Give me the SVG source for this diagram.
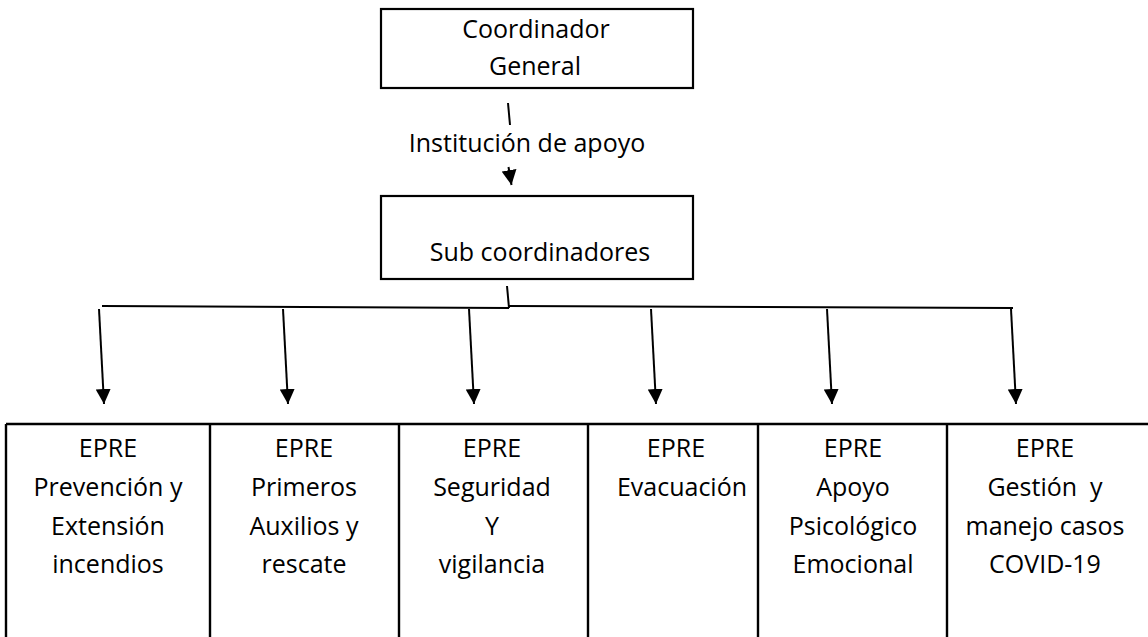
<svg xmlns="http://www.w3.org/2000/svg" width="1148" height="637" viewBox="0 0 1148 637">
<style>
  .box { fill: #fff; stroke: #000; stroke-width: 2.2; }
  .ln { fill: none; stroke: #000; stroke-width: 2; }
  .t { font-family: "Open Sans", "Liberation Sans", sans-serif; font-size: 25px; fill: #000; text-anchor: middle; }
</style>
<defs>
  <marker id="ah" markerUnits="userSpaceOnUse" markerWidth="16" markerHeight="15" refX="15" refY="7.5" orient="auto">
    <path d="M0,0 L15,7.5 L0,15 z" fill="#000"/>
  </marker>
</defs>
<rect width="1148" height="637" fill="#fff"/>

<g id="coordinador-general">
  <rect class="box" x="381" y="9" width="312" height="79"/>
  <text class="t" x="536" y="38">Coordinador</text>
  <text class="t" x="535" y="75">General</text>
</g>

<g id="institucion-label">
  <text class="t" x="527" y="152">Institución de apoyo</text>
</g>

<g id="sub-coordinadores">
  <rect class="box" x="381" y="196" width="312" height="83"/>
  <text class="t" x="540" y="261">Sub coordinadores</text>
</g>

<g id="epre-boxes">
  <path class="ln" d="M6,424 H1148 M6,424 V637 M210,424 V637 M399,424 V637 M588,424 V637 M758,424 V637 M947,424 V637" style="stroke-width:2.4"/>
</g>
<g id="epre-1">
  <text class="t" x="108" y="457">EPRE</text>
  <text class="t" x="108" y="496">Prevención y</text>
  <text class="t" x="108" y="535">Extensión</text>
  <text class="t" x="108" y="573">incendios</text>
</g>
<g id="epre-2">
  <text class="t" x="304" y="457">EPRE</text>
  <text class="t" x="304" y="496">Primeros</text>
  <text class="t" x="304" y="535">Auxilios y</text>
  <text class="t" x="304" y="573">rescate</text>
</g>
<g id="epre-3">
  <text class="t" x="492" y="457">EPRE</text>
  <text class="t" x="492" y="496">Seguridad</text>
  <text class="t" x="492" y="535">Y</text>
  <text class="t" x="492" y="573">vigilancia</text>
</g>
<g id="epre-4">
  <text class="t" x="676" y="457">EPRE</text>
  <text class="t" x="682" y="496">Evacuación</text>
</g>
<g id="epre-5">
  <text class="t" x="853" y="457">EPRE</text>
  <text class="t" x="853" y="496">Apoyo</text>
  <text class="t" x="853" y="535">Psicológico</text>
  <text class="t" x="853" y="573">Emocional</text>
</g>
<g id="epre-6">
  <text class="t" x="1045" y="457">EPRE</text>
  <text class="t" x="1045" y="496" xml:space="preserve">Gestión  y</text>
  <text class="t" x="1045" y="535">manejo casos</text>
  <text class="t" x="1045" y="573">COVID-19</text>
</g>

<g id="connectors">
  <line class="ln" x1="508" y1="103" x2="510" y2="125"/>
  <line class="ln" x1="508.5" y1="167" x2="511.5" y2="185" marker-end="url(#ah)"/>
  <line class="ln" x1="507" y1="286" x2="509" y2="308"/>
  <line class="ln" x1="102" y1="306" x2="509" y2="308"/>
  <line class="ln" x1="509" y1="306" x2="1013" y2="308"/>
  <line class="ln" x1="99" y1="309" x2="104" y2="404" marker-end="url(#ah)"/>
  <line class="ln" x1="283" y1="309" x2="288" y2="404" marker-end="url(#ah)"/>
  <line class="ln" x1="469" y1="309" x2="474" y2="404" marker-end="url(#ah)"/>
  <line class="ln" x1="651" y1="309" x2="656" y2="404" marker-end="url(#ah)"/>
  <line class="ln" x1="827" y1="309" x2="832" y2="404" marker-end="url(#ah)"/>
  <line class="ln" x1="1011" y1="309" x2="1016" y2="404" marker-end="url(#ah)"/>
</g>
</svg>
